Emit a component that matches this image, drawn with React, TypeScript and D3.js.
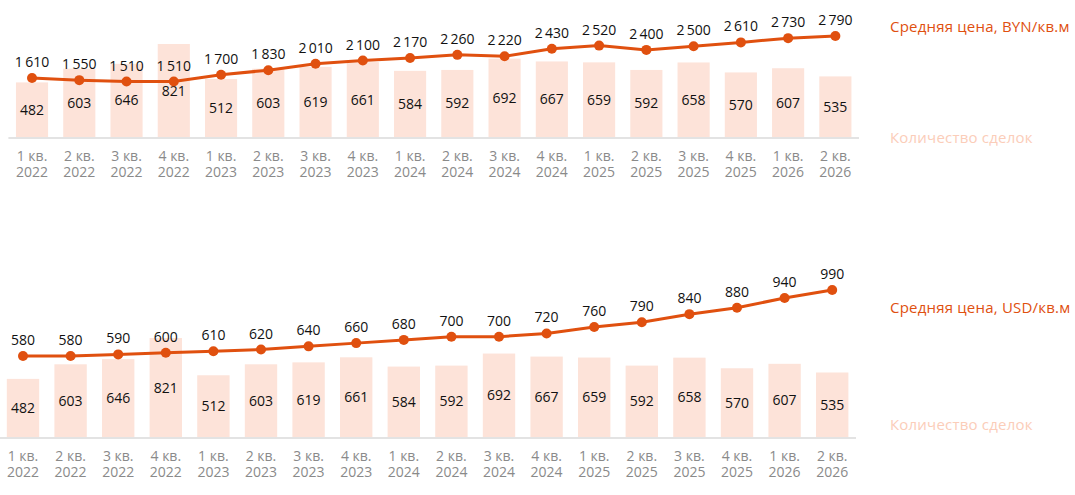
import * as d3 from "d3";

const quarters = [
  "1 кв.|2022", "2 кв.|2022", "3 кв.|2022", "4 кв.|2022",
  "1 кв.|2023", "2 кв.|2023", "3 кв.|2023", "4 кв.|2023",
  "1 кв.|2024", "2 кв.|2024", "3 кв.|2024", "4 кв.|2024",
  "1 кв.|2025", "2 кв.|2025", "3 кв.|2025", "4 кв.|2025",
  "1 кв.|2026", "2 кв.|2026",
];
const deals = [482, 603, 646, 821, 512, 603, 619, 661, 584, 592, 692, 667, 659, 592, 658, 570, 607, 535];
const priceBYN = [1610, 1550, 1510, 1510, 1700, 1830, 2010, 2100, 2170, 2260, 2220, 2430, 2520, 2400, 2500, 2610, 2730, 2790];
const priceUSD = [580, 580, 590, 600, 610, 620, 640, 660, 680, 700, 700, 720, 760, 790, 840, 880, 940, 990];

const LINE = "#e0500f";
const BAR = "#fde3d9";
const FONT = "'Open Sans', sans-serif";

const fmt = d3.formatLocale({ decimal: ",", thousands: "\u2009", grouping: [3], currency: ["", ""] }).format(",d");

interface PanelProps {
  prices: number[];
  priceLabel: string;
  xRange: [number, number];
  base: number;
  barTop: number;
  priceRange: [number, number];
  priceDomain: [number, number];
  legendPriceY: number;
  legendCountY: number;
}

function Panel(p: PanelProps) {
  const x = d3.scaleBand<string>().domain(quarters).range(p.xRange).paddingInner(0.32).paddingOuter(0.16);
  const yBar = d3.scaleLinear().domain([0, d3.max(deals)!]).range([p.base, p.barTop]);
  const yLine = d3.scaleLinear().domain(p.priceDomain).range(p.priceRange);
  const cx = (i: number) => x(quarters[i])! + x.bandwidth() / 2;
  const line = d3.line<number>().x((_, i) => cx(i)).y((d) => yLine(d));

  return (
    <g fontFamily={FONT}>
      {deals.map((d, i) => (
        <rect key={i} x={x(quarters[i])} y={yBar(d)} width={x.bandwidth()} height={p.base - yBar(d)} fill={BAR} />
      ))}
      <line x1={p.xRange[0]} x2={p.xRange[1]} y1={p.base + 1} y2={p.base + 1} stroke="#e3e3e3" strokeWidth={2} />
      {deals.map((d, i) => (
        <text key={i} x={cx(i)} y={(yBar(d) + p.base) / 2 + 5} textAnchor="middle" fontSize={14} fill="#111">
          {d}
        </text>
      ))}
      <path d={line(p.prices)!} fill="none" stroke={LINE} strokeWidth={3} />
      {p.prices.map((d, i) => (
        <circle key={i} cx={cx(i)} cy={yLine(d)} r={5} fill={LINE} />
      ))}
      {p.prices.map((d, i) => (
        <text key={i} x={cx(i)} y={yLine(d) - 11} textAnchor="middle" fontSize={14} fill="#111">
          {fmt(d)}
        </text>
      ))}
      {quarters.map((q, i) => {
        const [a, b] = q.split("|");
        return (
          <text key={i} x={cx(i)} textAnchor="middle" fontSize={14} fill="#8a8a8a">
            <tspan x={cx(i)} y={p.base + 24}>{a}</tspan>
            <tspan x={cx(i)} y={p.base + 40}>{b}</tspan>
          </text>
        );
      })}
      <text x={890} y={p.legendPriceY + 5} fontSize={15} letterSpacing={0.2} fill={LINE}>{p.priceLabel}</text>
      <text x={890} y={p.legendCountY + 5} fontSize={15} letterSpacing={0.2} fill="#fbcdb9">Количество сделок</text>
    </g>
  );
}

export default function App() {
  return (
    <svg width={1075} height={495} style={{ position: "absolute", left: 0, top: 0, background: "#fff" }}>
      <Panel
        prices={priceBYN}
        priceLabel="Средняя цена, BYN/кв.м"
        xRange={[8.4, 859]}
        base={137}
        barTop={44}
        priceDomain={[1610, 2790]}
        priceRange={[78, 36]}
        legendPriceY={27}
        legendCountY={138}
      />
      <Panel
        prices={priceUSD}
        priceLabel="Средняя цена, USD/кв.м"
        xRange={[-0.8, 856]}
        base={437}
        barTop={338}
        priceDomain={[580, 990]}
        priceRange={[356, 290]}
        legendPriceY={308}
        legendCountY={425}
      />
    </svg>
  );
}
